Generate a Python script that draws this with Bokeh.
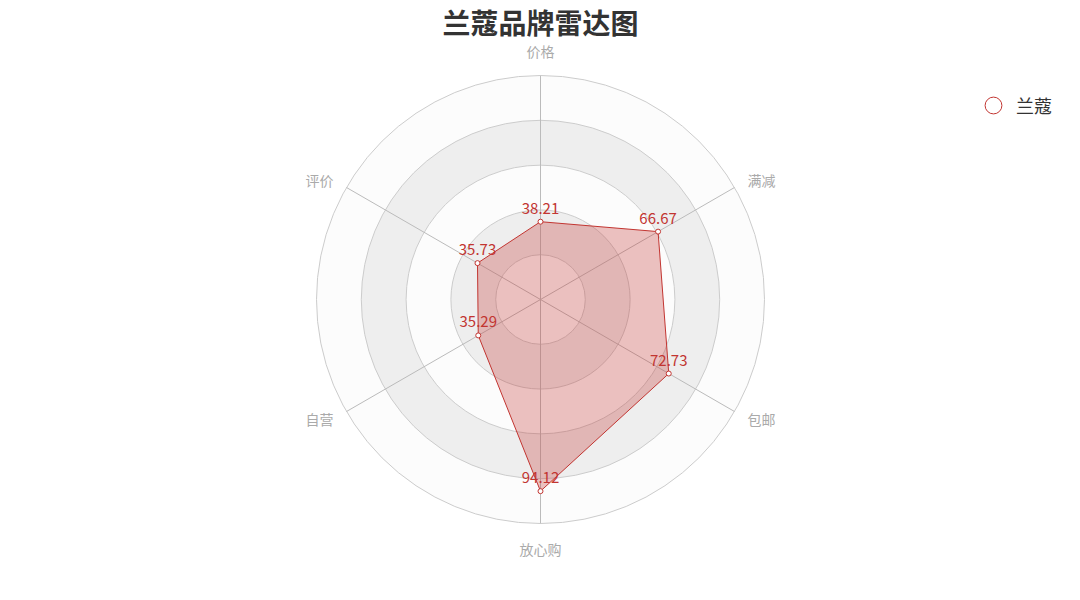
import math

from bokeh.core.properties import value
from bokeh.embed import file_html
from bokeh.models import Label, Legend, LegendItem, Range1d
from bokeh.plotting import figure
from bokeh.resources import INLINE

# 数据
indicators = ["价格", "满减", "包邮", "放心购", "自营", "评价"]
scores = [38.21, 66.67, 72.73, 94.12, 35.29, 35.73]
series_name = "兰蔻"
max_value = 110
split_number = 5

FONT = value("Noto Sans CJK SC")
RED = "#c23531"

W, H = 1072, 592
R_PX = 224.0            # 外圈半径(像素)
k = R_PX / max_value    # 每个数值单位的像素
cx, cy = 540, 299       # 圆心在画布中的位置(自上而下)

p = figure(width=W, height=H, output_backend="svg", toolbar_location=None,
           x_range=Range1d(-cx / k, (W - cx) / k),
           y_range=Range1d(-(H - cy) / k, cy / k),
           min_border=0, outline_line_color=None)
p.axis.visible = False
p.grid.visible = False

# 同心分区(由外向内)
step = max_value / split_number
band_colors = ["#fcfcfc", "#eeeeee"]
for i in range(split_number, 0, -1):
    p.annulus(x=0, y=0, inner_radius=(i - 1) * step, outer_radius=i * step,
              fill_color=band_colors[(i - 1) % 2], line_color=None)
for i in range(1, split_number + 1):
    p.circle(x=0, y=0, radius=i * step, fill_color=None,
             line_color="#cccccc", line_width=1)

# 轴线
n = len(indicators)
angles = [2 * math.pi * j / n for j in range(n)]
p.segment(x0=[0] * n, y0=[0] * n,
          x1=[max_value * math.sin(a) for a in angles],
          y1=[max_value * math.cos(a) for a in angles],
          line_color="#bbbbbb", line_width=1)

# 指标名称
name_r = max_value * (R_PX + 15) / R_PX
for name, a in zip(indicators, angles):
    sx, sy = math.sin(a), math.cos(a)
    if abs(sx) < 1e-6:
        align = "center"
        base = "bottom" if sy > 0 else "top"
    else:
        align = "left" if sx > 0 else "right"
        base = "middle"
    p.text(x=[name_r * sx], y=[name_r * sy], text=[name], text_align=align,
           text_baseline=base, text_font=FONT, text_font_size="14px",
           text_color="#aaaaaa")

# 数据区域
xs = [v * math.sin(a) for v, a in zip(scores, angles)]
ys = [v * math.cos(a) for v, a in zip(scores, angles)]
p.patch(xs, ys, fill_color=RED, fill_alpha=0.3, line_color=RED, line_width=1)
pts = p.scatter(xs, ys, marker="circle", size=5, fill_color="white",
                line_color=RED, line_width=1)
p.text(x=xs, y=ys, text=["%.2f" % v for v in scores], text_align="center",
       text_baseline="bottom", y_offset=-8, text_font=FONT,
       text_font_size="15px", text_color=RED)

# 标题
p.add_layout(Label(x=cx, y=H - 21, x_units="screen", y_units="screen",
                   text="兰蔻品牌雷达图", text_align="center",
                   text_baseline="middle", text_font="Noto Sans CJK SC",
                   text_font_size="28px", text_font_style="bold",
                   text_color="#333333"))

# 图例
legend = Legend(items=[LegendItem(label=series_name, renderers=[pts])],
                location=(972, H - 105 - 22), glyph_width=42, glyph_height=44,
                label_standoff=2, padding=0, margin=0, border_line_color=None,
                background_fill_alpha=0, label_text_font="Noto Sans CJK SC",
                label_text_font_size="18px", label_text_color="#333333")
p.add_layout(legend, "center")

open("out.html", "w").write(file_html(p, INLINE))
